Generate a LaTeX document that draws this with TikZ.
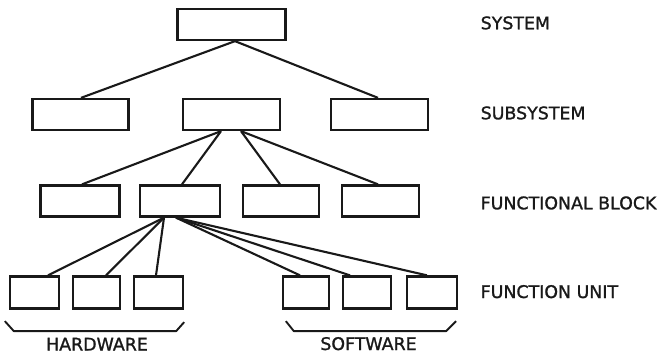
\documentclass[tikz,border=0pt]{standalone}
\usepackage{fontspec}
\setmainfont{DejaVu Sans}
\newfontfamily\letterfont[FakeBold=1.2]{DejaVu Sans}
\usetikzlibrary{calc}
\begin{document}
\begin{tikzpicture}[x=1pt,y=-1pt,
  ink/.style={color=black!90},
  unitbox/.style={draw, ink, line width=2.3pt, rectangle, inner sep=0pt,
    minimum height=31pt},
  link/.style={ink, line width=2.1pt},
  brace/.style={ink, line width=1.9pt, line join=round},
  level/.style={ink, anchor=base west, inner sep=0pt,
    font=\letterfont\fontsize{17.4}{20}\selectfont},
  group/.style={ink, anchor=base, inner sep=0pt,
    font=\letterfont\fontsize{17.4}{20}\selectfont}]
\useasboundingbox (0,0) rectangle (665,354);

% system level
\node[unitbox, minimum width=108pt] (sys) at (231.5,24.5) {};

% subsystems
\node[unitbox, minimum width=96pt] (sub1) at (80.5,114.5) {};
\node[unitbox, minimum width=97pt] (sub2) at (231.7,114.5) {};
\node[unitbox, minimum width=97pt] (sub3) at (379.7,114.5) {};

% functional blocks
\node[unitbox, minimum width=79pt] (fb1) at (80,201) {};
\node[unitbox, minimum width=80pt] (fb2) at (180.3,201) {};
\node[unitbox, minimum width=76pt] (fb3) at (281,201) {};
\node[unitbox, minimum width=77pt] (fb4) at (380.3,201) {};

% function units
\node[unitbox, minimum width=49pt, minimum height=32pt] (hw1) at (34.5,292.5) {};
\node[unitbox, minimum width=47pt, minimum height=32pt] (hw2) at (96.5,292.5) {};
\node[unitbox, minimum width=49pt, minimum height=32pt] (hw3) at (158.5,292.5) {};
\node[unitbox, minimum width=46pt, minimum height=32pt] (sw1) at (306,292.5) {};
\node[unitbox, minimum width=48pt, minimum height=32pt] (sw2) at (367,292.5) {};
\node[unitbox, minimum width=50pt, minimum height=32pt] (sw3) at (432,292.5) {};

% connectors
\draw[link] ([xshift=3.5pt]sys.south) -- ([xshift=0.5pt]sub1.north);
\draw[link] ([xshift=3.5pt]sys.south) -- ([xshift=-1.7pt]sub3.north);

\draw[link] ([xshift=-10.7pt]sub2.south) -- ([xshift=2pt]fb1.north);
\draw[link] ([xshift=-10.7pt]sub2.south) -- ([xshift=1.7pt]fb2.north);
\draw[link] ([xshift=9.3pt]sub2.south) -- ([xshift=-1pt]fb3.north);
\draw[link] ([xshift=9.3pt]sub2.south) -- ([xshift=-2.3pt]fb4.north);

\draw[link] ([xshift=-16.3pt]fb2.south) -- ([xshift=13.5pt]hw1.north);
\draw[link] ([xshift=-16.3pt]fb2.south) -- ([xshift=9.5pt]hw2.north);
\draw[link] ([xshift=-16.3pt]fb2.south) -- ([xshift=-2.5pt]hw3.north);
\draw[link] ([xshift=-4.3pt]fb2.south) -- ([xshift=-6pt]sw1.north);
\draw[link] ([xshift=-4.3pt]fb2.south) -- ([xshift=-17pt]sw2.north);
\draw[link] ([xshift=-4.3pt]fb2.south) -- ([xshift=-5pt]sw3.north);

% group brackets
\draw[brace] ($(hw1.south west)+(-4,11.5)$) -- ($(hw1.south west)+(5,21.5)$)
  -- ($(hw3.south east)+(-8,21.5)$) -- ($(hw3.south east)+(0,12.5)$);
\draw[brace] ($(sw1.south west)+(4,11.5)$) -- ($(sw1.south west)+(12,21.5)$)
  -- ($(sw3.south east)+(-12,21.5)$) -- ($(sw3.south east)+(-2,11.5)$);

% group names
\node[group] (hwname) at (97,350.5) {HARDWARE};
\node[group] (swname) at (368.5,350) {SOFTWARE};

% level names
\node[level] (lsys) at (480.5,29.3) {SYSTEM};
\node[level] (lsub) at (480.5,119.3) {SUBSYSTEM};
\node[level] (lfb) at (480.5,209.3) {FUNCTIONAL BLOCK};
\node[level] (lfu) at (480.5,298) {FUNCTION UNIT};
\end{tikzpicture}
\end{document}
